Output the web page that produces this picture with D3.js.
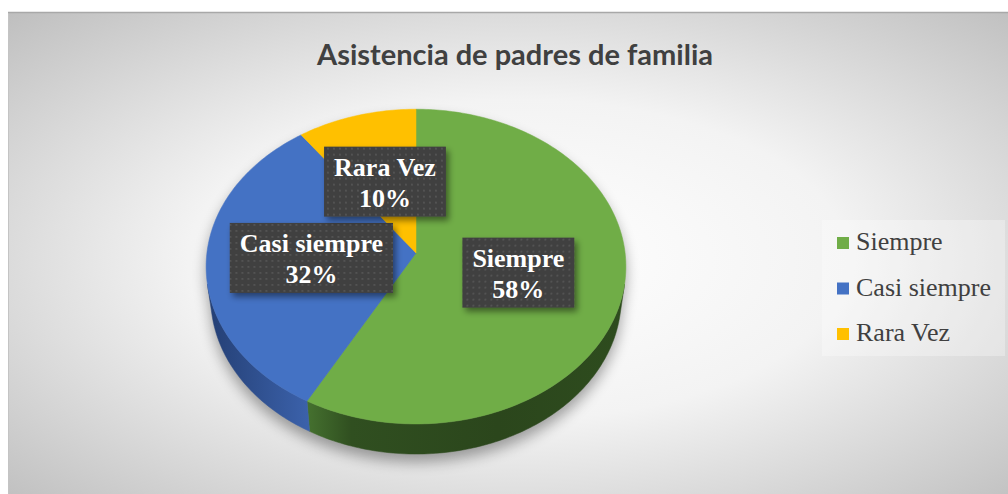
<!DOCTYPE html>
<html>
<head>
<meta charset="utf-8">
<script src="https://cdn.jsdelivr.net/npm/d3@7"></script>
<style>
  html, body { margin: 0; padding: 0; background: #fff; }
  svg { display: block; }
</style>
</head>
<body>
<div id="chart-area"></div>
<script>
// Data
const categories = ["Siempre", "Casi siempre", "Rara Vez"];
const shares = [58, 32, 10];
const colors = ["#70AD47", "#4472C4", "#FFC000"];
const title = "Asistencia de padres de familia";

const W = 1008;
const H = 494;

const svg = d3
    .select("#chart-area")
    .append("svg")
    .attr("width", W)
    .attr("height", H);

const defs = svg.append("defs");

// Background gradient of the chart area
const bg = defs
    .append("radialGradient")
    .attr("id", "bg")
    .attr("cx", "50%")
    .attr("cy", "50%")
    .attr("r", "72%");
bg.append("stop").attr("offset", "0%").attr("stop-color", "#ffffff");
bg.append("stop").attr("offset", "45%").attr("stop-color", "#f3f3f3");
bg.append("stop").attr("offset", "100%").attr("stop-color", "#bdbdbd");

// Dotted pattern for the data label boxes
const pat = defs
    .append("pattern")
    .attr("id", "dots")
    .attr("width", 6)
    .attr("height", 6)
    .attr("patternUnits", "userSpaceOnUse");
pat.append("rect").attr("width", 6).attr("height", 6).attr("fill", "#3f3f3f");
pat.append("rect").attr("x", 2).attr("y", 2).attr("width", 2).attr("height", 2).attr("fill", "#525252");

const blur = defs.append("filter").attr("id", "blur").attr("x", "-20%").attr("y", "-20%").attr("width", "140%").attr("height", "140%");
blur.append("feGaussianBlur").attr("stdDeviation", 7);

const lblShadow = defs.append("filter").attr("id", "lblShadow").attr("x", "-20%").attr("y", "-20%").attr("width", "140%").attr("height", "150%");
lblShadow
    .append("feDropShadow")
    .attr("dx", 3)
    .attr("dy", 4)
    .attr("stdDeviation", 3)
    .attr("flood-color", "#000")
    .attr("flood-opacity", 0.45);

// Chart area
svg.append("rect")
    .attr("x", 8.5)
    .attr("y", 12.5)
    .attr("width", W + 10)
    .attr("height", H)
    .attr("fill", "url(#bg)")
    .attr("stroke", "#c4c4c4");
svg.append("line")
    .attr("x1", 8).attr("x2", W)
    .attr("y1", 12.5).attr("y2", 12.5)
    .attr("stroke", "#a8a8a8")
    .attr("stroke-width", 1.5);

// Title
svg.append("text")
    .attr("x", 515)
    .attr("y", 65)
    .attr("text-anchor", "middle")
    .attr("font-family", "Lato, 'Open Sans', sans-serif")
    .attr("font-weight", "bold")
    .attr("font-size", "29px")
    .attr("fill", "#404040")
    .text(title);

// 3D pie projection (perspective view of a tilted disc)
const cx = 416;
const cy = 253;
const D = 7.7;
const F = 1610;
const sinT = 0.747;
const cosT = 0.665;
const depthH = 0.23;

const proj = (X, Y, Z) => {
    const w = D - (Z * cosT + Y * sinT);
    return [cx + (F * X) / w, cy + (F * (Z * sinT - Y * cosT)) / w];
};
const rim = (a, r, y) => proj(r * Math.sin(a), y, -r * Math.cos(a));

const arcPoints = (a0, a1, r, y) => {
    const n = Math.max(2, Math.ceil(((a1 - a0) * 180) / Math.PI));
    return d3.range(n + 1).map((i) => rim(a0 + ((a1 - a0) * i) / n, r, y));
};

const pie = d3.pie().sort(null).value((d) => d.value);
const arcs = pie(categories.map((c, i) => ({ name: c, value: shares[i], color: colors[i] })));

// visible side wall range
const cosLim = -1 / (D * cosT);
const aMin = Math.acos(cosLim);
const aMax = 2 * Math.PI - aMin;

const line = d3.line();
const g = svg.append("g");

// shadow under the pie
const outline = arcPoints(aMin, aMax, 1, -depthH).concat(arcPoints(aMax, aMin + 2 * Math.PI, 1, 0));
g.append("path")
    .attr("d", line(outline) + "Z")
    .attr("transform", "translate(0, 8)")
    .attr("fill", "#000")
    .attr("opacity", 0.35)
    .attr("filter", "url(#blur)");

const sideStops = {
    Siempre: [["0%", "#45712f"], ["14%", "#304f20"], ["60%", "#2b461c"], ["100%", "#2e4c1e"]],
    "Casi siempre": [["0%", "#243f74"], ["100%", "#3b61aa"]],
    "Rara Vez": [["0%", "#b38600"], ["100%", "#c79600"]],
};

// side walls
arcs.forEach((d, i) => {
    const s = Math.max(d.startAngle, aMin);
    const e = Math.min(d.endAngle, aMax);
    if (e <= s) return;
    const p0 = rim(e, 1, 0);
    const p1 = rim(s, 1, 0);
    const grad = defs
        .append("linearGradient")
        .attr("id", "side" + i)
        .attr("gradientUnits", "userSpaceOnUse")
        .attr("x1", p0[0]).attr("y1", 0)
        .attr("x2", p1[0]).attr("y2", 0);
    sideStops[d.data.name].forEach(([o, c]) => {
        grad.append("stop").attr("offset", o).attr("stop-color", c);
    });
    const pts = arcPoints(s, e, 1, 0).concat(arcPoints(s, e, 1, -depthH).reverse());
    g.append("path")
        .attr("d", line(pts) + "Z")
        .attr("fill", `url(#side${i})`)
        .attr("stroke", `url(#side${i})`)
        .attr("stroke-width", 0.5);
});

// top faces
arcs.forEach((d) => {
    const pts = [proj(0, 0, 0)].concat(arcPoints(d.startAngle, d.endAngle, 1, 0));
    g.append("path")
        .attr("d", line(pts) + "Z")
        .attr("fill", d.data.color)
        .attr("stroke", d.data.color)
        .attr("stroke-width", 0.5);
});

// data labels
const labels = svg.append("g");
arcs.forEach((d) => {
    const mid = (d.startAngle + d.endAngle) / 2;
    const [lx, ly] = rim(mid, 0.5, 0);
    const lg = labels.append("g").attr("transform", `translate(${lx}, ${ly})`);
    const box = lg.append("rect").attr("fill", "url(#dots)").attr("filter", "url(#lblShadow)");
    const t1 = lg.append("text")
        .attr("y", -6)
        .attr("text-anchor", "middle")
        .attr("font-family", "'Liberation Serif', 'Times New Roman', serif")
        .attr("font-weight", "bold")
        .attr("font-size", "26px")
        .attr("fill", "#fff")
        .text(d.data.name);
    const t2 = lg.append("text")
        .attr("y", 25)
        .attr("text-anchor", "middle")
        .attr("font-family", "'Liberation Serif', 'Times New Roman', serif")
        .attr("font-weight", "bold")
        .attr("font-size", "26px")
        .attr("fill", "#fff")
        .text(d3.format(".0%")(d.value / d3.sum(shares)));
    const tw = Math.max(t1.node().getComputedTextLength(), t2.node().getComputedTextLength());
    const bw = tw + 20;
    box.attr("x", -bw / 2).attr("y", -35).attr("width", bw).attr("height", 70);
});

// Legend
const legend = svg.append("g");
legend.append("rect")
    .attr("x", 822)
    .attr("y", 220)
    .attr("width", 183)
    .attr("height", 136)
    .attr("fill", "#fff")
    .attr("opacity", 0.3);

categories.forEach((c, i) => {
    const row = legend.append("g").attr("transform", `translate(837, ${250 + i * 45.5})`);
    row.append("rect")
        .attr("y", -13)
        .attr("width", 12)
        .attr("height", 12)
        .attr("fill", colors[i]);
    row.append("text")
        .attr("x", 19)
        .attr("font-family", "'Liberation Serif', 'Times New Roman', serif")
        .attr("font-size", "26px")
        .attr("fill", "#404040")
        .text(c);
});
</script>
</body>
</html>
